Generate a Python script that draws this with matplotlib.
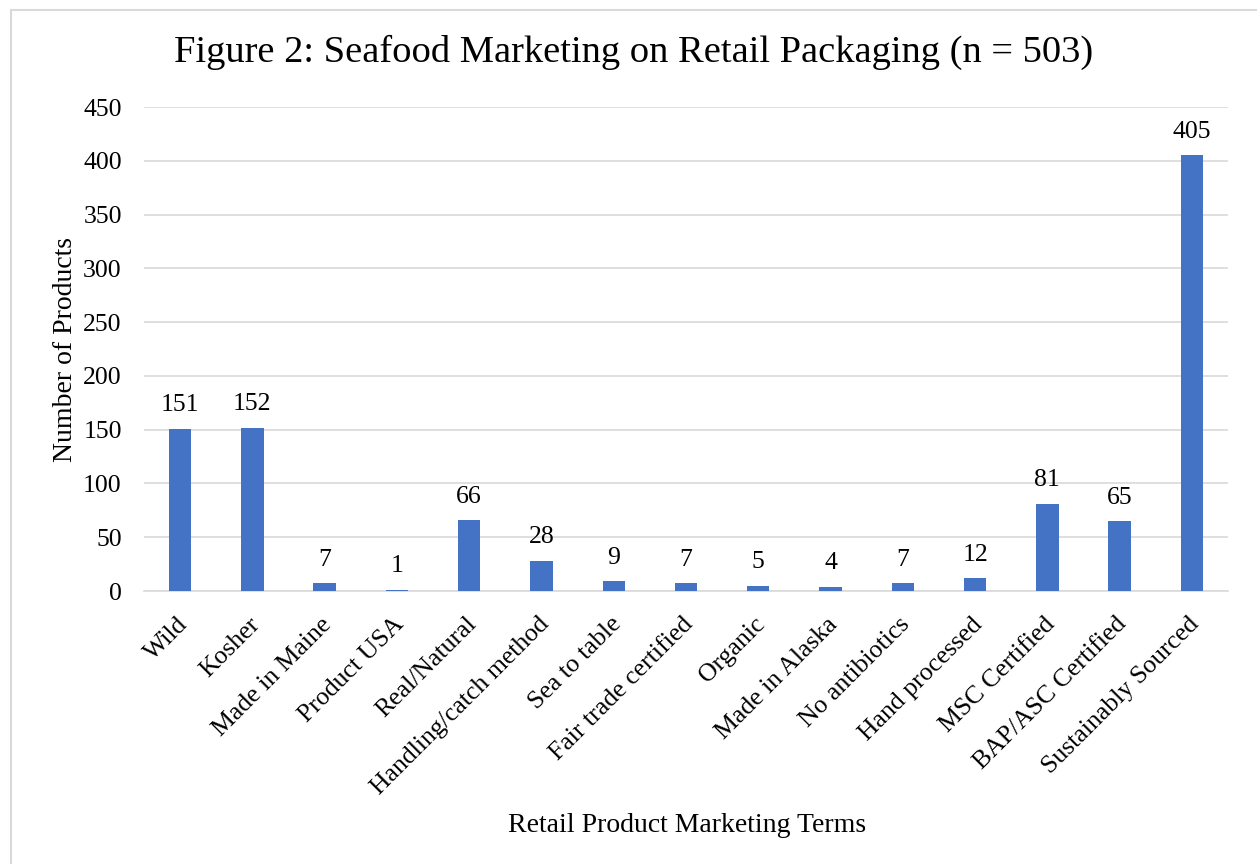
import matplotlib.pyplot as plt
from matplotlib.patches import Rectangle
import matplotlib.transforms as mtransforms
import numpy as np

# Marketing terms found on seafood packaging
terms = ['Wild', 'Kosher', 'Made in Maine', 'Product USA', 'Real/Natural',
         'Handling/catch method', 'Sea to table', 'Fair trade certified',
         'Organic', 'Made in Alaska', 'No antibiotics', 'Hand processed',
         'MSC Certified', 'BAP/ASC Certified', 'Sustainably Sourced']
counts = [151, 152, 7, 1, 66, 28, 9, 7, 5, 4, 7, 12, 81, 65, 405]
yticks = [0, 50, 100, 150, 200, 250, 300, 350, 400, 450]

plt.rcParams['font.family'] = ['Liberation Serif', 'DejaVu Serif']

fig = plt.figure(figsize=(12.57, 8.64), dpi=100)
W, H = 1257, 864
# light frame round the chart
fig.patches.append(Rectangle((11/W, -0.05), 1.1, 1 - 10/H + 0.05,
                             transform=fig.transFigure, fill=False,
                             edgecolor='#d9d9d9', linewidth=1.5))

ax = fig.add_axes([144/W, 1 - 591/H, (1228 - 144)/W, (591 - 107)/H])
x = np.arange(len(terms))
ax.bar(x, counts, width=0.31, color='#4472c4', zorder=3)
for xi, v in zip(x, counts):
    ax.annotate(str(v), (xi, v), xytext=(0, 9), textcoords='offset points',
                ha='center', va='bottom', fontsize=18.5)

ax.set_xlim(-0.5, len(terms) - 0.5)
ax.set_ylim(0, 450)
ax.set_yticks(yticks)
ax.set_yticklabels([str(t) for t in yticks], fontsize=18.5)
ax.set_xticks(x)
ax.set_xticklabels(terms, rotation=45, ha='right', rotation_mode='anchor',
                   fontsize=18.5)
ax.tick_params(axis='y', length=0, pad=16)
ax.tick_params(axis='x', length=0, pad=16)
# nudge the slanted labels so they end just right of each bar
shift = mtransforms.ScaledTranslation(-4/100, 0, fig.dpi_scale_trans)
for lbl in ax.get_xticklabels():
    lbl.set_transform(lbl.get_transform() + shift)
ax.grid(axis='y', color='#d9d9d9', linewidth=1.2, zorder=0)
for s in ['top', 'right', 'left']:
    ax.spines[s].set_visible(False)
ax.spines['bottom'].set_color('#d9d9d9')
ax.spines['bottom'].set_linewidth(1.2)

ax.set_ylabel('Number of Products', fontsize=20, labelpad=4)
fig.text(687/W, 1 - 825/H, 'Retail Product Marketing Terms', ha='center',
         va='center', fontsize=20)
fig.text(634/W, 1 - 52/H, 'Figure 2: Seafood Marketing on Retail Packaging (n = 503)',
         ha='center', va='center', fontsize=27.7)

fig.savefig('out.png', dpi=100)
